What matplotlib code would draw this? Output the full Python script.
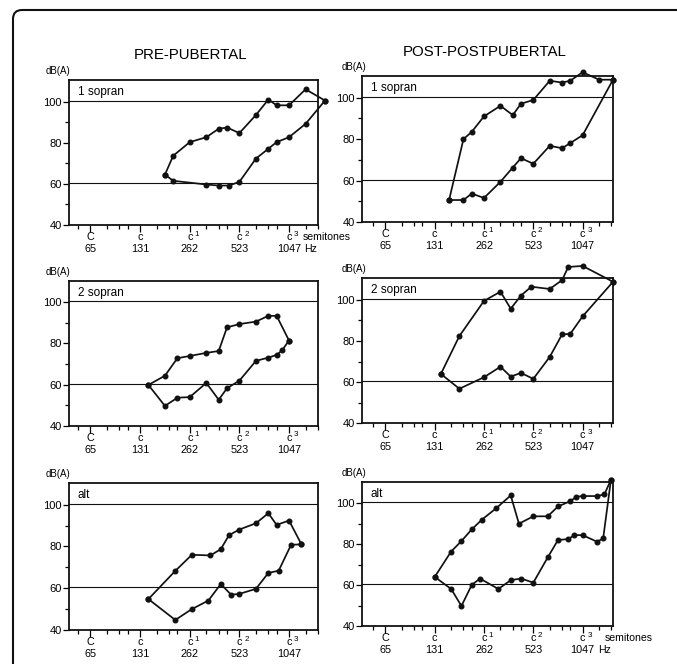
import matplotlib.pyplot as plt
from matplotlib.patches import FancyBboxPatch

plt.rcParams['font.family'] = ['Liberation Sans', 'DejaVu Sans']

# x in semitones above C (65 Hz), y in dB(A)
note_pos = [0, 12, 24, 36, 48]
note_name = ['C', 'c', 'c', 'c', 'c']
note_sup = ['', '', '1', '2', '3']
note_hz = ['65', '131', '262', '523', '1047']
minor_pos = [-3, 4, 7, 9, 16, 19, 21, 28, 31, 33, 40, 43, 45, 52, 55]

# pre-pubertal, 1 sopran
pre1_up_x = [18, 20, 24, 28, 31, 33, 36, 40, 43, 45, 48, 52, 56.7]
pre1_up_y = [64.5, 73.7, 80.3, 82.7, 86.8, 87.4, 84.7, 93.5, 101, 98.2, 98.2, 106, 100.5]
pre1_lo_x = [18, 20, 28, 31, 33.5, 36, 40, 43, 45, 48, 52, 56.7]
pre1_lo_y = [64.5, 61.5, 59.7, 59.2, 59.2, 61, 72.3, 77.1, 80.3, 82.7, 89.2, 100.5]

# post-pubertal, 1 sopran
post1_up_x = [15.5, 19, 21, 24, 28, 31, 33, 36, 40, 43, 45, 48, 52, 55.4]
post1_up_y = [50.6, 80, 83.5, 91, 96.1, 91.6, 97.1, 98.9, 108.2, 107.3, 108.2, 112.3, 108.7, 108.7]
post1_lo_x = [15.5, 19, 21, 24, 28, 31, 33, 36, 40, 43, 45, 48, 55.4]
post1_lo_y = [50.6, 50.6, 53.7, 51.6, 59.4, 66.3, 70.8, 68.1, 76.8, 75.6, 78.1, 81.9, 108.7]

# pre-pubertal, 2 sopran
pre2_up_x = [14, 18, 21, 24, 28, 31, 33, 36, 40, 43, 45, 48]
pre2_up_y = [59.8, 64.3, 72.8, 73.9, 75.4, 76.3, 87.8, 89.4, 90.6, 93.4, 93.4, 81.4]
pre2_lo_x = [14, 18, 21, 24, 28, 31, 33, 36, 40, 43, 45, 46.3, 48]
pre2_lo_y = [59.8, 49.6, 53.6, 53.9, 60.8, 52.6, 58.2, 61.9, 71.5, 73.1, 74.4, 76.6, 81.4]

# post-pubertal, 2 sopran
post2_up_x = [13.5, 18, 24, 28, 30.5, 33, 35.5, 40, 43, 44.5, 48, 55.4]
post2_up_y = [64, 82.4, 99.5, 104, 95.7, 102.1, 106.4, 105.3, 109.6, 116, 116.5, 108.8]
post2_lo_x = [13.5, 18, 24, 28, 30.5, 33, 36, 40, 43, 45, 48, 55.4]
post2_lo_y = [64, 56.8, 62.4, 67.5, 62.7, 64.5, 61.6, 72.3, 83.2, 83.5, 92, 108.8]

# pre-pubertal, alt
pre3_up_x = [14, 20.5, 24.5, 29, 31.5, 33.5, 36, 40, 43, 45, 48, 51]
pre3_up_y = [54.8, 68.3, 76, 75.7, 78.7, 85.4, 88.1, 91.1, 95.9, 90.3, 92.4, 81]
pre3_lo_x = [14, 20.5, 24.5, 28.5, 31.5, 34, 36, 40, 43, 45.5, 48.5, 51]
pre3_lo_y = [54.8, 44.8, 50, 54.1, 62, 56.9, 57.3, 59.7, 67.3, 68.4, 80.8, 81]

# post-pubertal, alt
post3_up_x = [12, 16, 18.5, 21, 23.5, 27, 30.5, 32.5, 36, 39.5, 42, 45, 46.5, 48, 51.5, 53.3, 54.9]
post3_up_y = [64, 76.4, 81.5, 87.2, 92, 97.6, 103.8, 90, 93.6, 93.6, 98.4, 101, 103.2, 103.5, 103.5, 104.3, 111.5]
post3_lo_x = [12, 16, 18.5, 21, 23, 27.5, 30.5, 33, 36, 39.5, 42, 44.5, 46, 48, 51.5, 53, 54.9]
post3_lo_y = [64, 58.1, 49.8, 60, 63.2, 58.1, 62.4, 63.2, 61.2, 73.5, 82, 82.5, 84.4, 84.4, 81.2, 82.8, 111.5]

ref_levels = [60.5, 100.5]

fig = plt.figure(figsize=(6.77, 6.64), dpi=100)

# outer frame (rounded top-left corner, runs off the right and bottom)
bg = fig.add_axes([0, 0, 1, 1])
bg.set_xlim(0, 677)
bg.set_ylim(664, 0)
bg.axis('off')
bg.add_patch(FancyBboxPatch((13, 10), 800, 800, boxstyle='round,pad=0,rounding_size=9',
                            fill=False, edgecolor='#111111', linewidth=1.5))

fig.text(191 / 677, 1 - 55 / 664, 'PRE-PUBERTAL', ha='center', va='center', fontsize=10.8)
fig.text(485 / 677, 1 - 52 / 664, 'POST-POSTPUBERTAL', ha='center', va='center', fontsize=10.8)

def draw_panel(rect, xlim, up_x, up_y, lo_x, lo_y, label, dba_dx, semi_x=None, hz_x=None):
    ax = fig.add_axes(rect)
    ax.set_xlim(*xlim)
    ax.set_ylim(40, 110.5)

    for lev in ref_levels:
        ax.axhline(lev, color='#111111', linewidth=0.8)

    for xs, ys in [(up_x, up_y), (lo_x, lo_y)]:
        ax.plot(xs, ys, color='#111111', linewidth=1.25, marker='o', markersize=3.3, clip_on=False, zorder=3)

    for sp in ax.spines.values():
        sp.set_linewidth(1.3)
        sp.set_color('#111111')

    ax.set_yticks([40, 60, 80, 100])
    ax.set_yticks([50, 70, 90], minor=True)
    ax.tick_params(axis='y', which='major', direction='out', length=4, width=0.9, labelsize=8, pad=1)
    ax.tick_params(axis='y', which='minor', direction='out', length=3, width=0.9)

    ax.set_xticks(note_pos)
    ax.set_xticks(minor_pos, minor=True)
    ax.set_xticklabels([])
    ax.tick_params(axis='x', which='major', direction='out', length=5, width=0.9)
    ax.tick_params(axis='x', which='minor', direction='out', length=3, width=0.9)

    trans = ax.get_xaxis_transform()
    for pos, name, sup, hz in zip(note_pos, note_name, note_sup, note_hz):
        ax.annotate(name, (pos, 0), xycoords=trans, xytext=(0, -12), textcoords='offset pixels',
                    ha='center', va='center', fontsize=7.8, annotation_clip=False)
        if sup:
            ax.annotate(sup, (pos, 0), xycoords=trans, xytext=(7, -9), textcoords='offset pixels',
                        ha='center', va='center', fontsize=5.8, annotation_clip=False)
        ax.annotate(hz, (pos, 0), xycoords=trans, xytext=(0, -24), textcoords='offset pixels',
                    ha='center', va='center', fontsize=7.8, annotation_clip=False)
    if semi_x is not None:
        ax.annotate('semitones', (semi_x, 0), xycoords=trans, xytext=(0, -12), textcoords='offset pixels',
                    ha='left', va='center', fontsize=7.6, annotation_clip=False)
        ax.annotate('Hz', (hz_x, 0), xycoords=trans, xytext=(0, -24), textcoords='offset pixels',
                    ha='left', va='center', fontsize=7.6, annotation_clip=False)

    ax.annotate('dB(A)', (0, 1), xycoords='axes fraction', xytext=(dba_dx, 9), textcoords='offset pixels',
                ha='right', va='center', fontsize=7)
    ax.annotate(label, (0, 1), xycoords='axes fraction', xytext=(9, -12), textcoords='offset pixels',
                ha='left', va='center', fontsize=8.5)
    return ax

left_xlim = (-5.2, 54.8)
right_xlim = (-5.7, 55.4)

draw_panel([0.1019, 0.6611, 0.3678, 0.2184], left_xlim,
           pre1_up_x, pre1_up_y, pre1_lo_x, pre1_lo_y, '1 sopran', 1, semi_x=51.2, hz_x=51.6)
draw_panel([0.5347, 0.6657, 0.3708, 0.2199], right_xlim,
           post1_up_x, post1_up_y, post1_lo_x, post1_lo_y, '1 sopran', 4)
draw_panel([0.1019, 0.3589, 0.3678, 0.2184], left_xlim,
           pre2_up_x, pre2_up_y, pre2_lo_x, pre2_lo_y, '2 sopran', 1)
draw_panel([0.5347, 0.3625, 0.3708, 0.2184], right_xlim,
           post2_up_x, post2_up_y, post2_lo_x, post2_lo_y, '2 sopran', 4)
draw_panel([0.1019, 0.0512, 0.3678, 0.2218], left_xlim,
           pre3_up_x, pre3_up_y, pre3_lo_x, pre3_lo_y, 'alt', 1)
draw_panel([0.5347, 0.0572, 0.3708, 0.2173], right_xlim,
           post3_up_x, post3_up_y, post3_lo_x, post3_lo_y, 'alt', 4, semi_x=53.3, hz_x=51.8)

fig.savefig('out.png', dpi=100)
